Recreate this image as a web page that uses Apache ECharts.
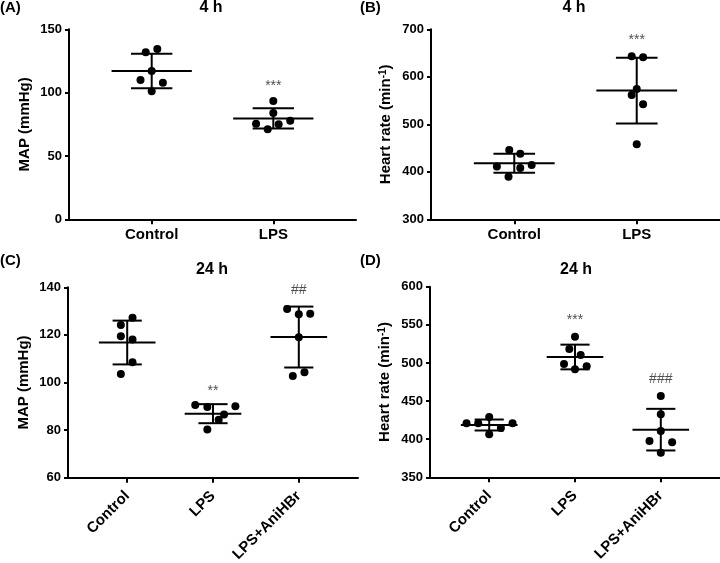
<!DOCTYPE html>
<html>
<head>
<meta charset="utf-8">
<script src="https://cdn.jsdelivr.net/npm/echarts@6/dist/echarts.min.js"></script>
<style>
html,body{margin:0;padding:0;background:#fff;}
#chart{width:720px;height:563px;}
</style>
</head>
<body>
<div id="chart"></div>
<script>
// ---------- data ----------
const catsTop = ['Control', 'LPS'];
const catsBottom = ['Control', 'LPS', 'LPS+AniHBr'];

// Panel A: MAP at 4 h (mmHg)
const mapA = [[131.8, 134.5, 117.1, 110.0, 107.9, 101.1], [93.4, 83.9, 75.5, 75.0, 77.9, 71.1]];
const jitA = [[-0.049, 0.046, 0, -0.092, 0.092, 0], [0, 0, -0.142, 0.044, 0.139, -0.046]];
const meanA = [117.1, 79.6];
const sdA = [13.6, 8.0];
const sigA = ['', '***'];
const sigYA = [107.4, 105.5];

// Panel B: heart rate at 4 h (min-1)
const hrB = [[446.0, 438.2, 410.9, 408.1, 414.4, 389.8], [643.2, 641.1, 574.4, 561.8, 542.1, 457.9]];
const jitB = [[-0.041, 0.049, -0.142, 0.049, 0.142, -0.047], [-0.041, 0.052, 0, -0.041, 0.052, 0]];
const meanB = [417.9, 570.9];
const sdB = [20.0, 69.2];
const sigB = ['', '***'];
const sigYB = [682.5, 677.5];

// Panel C: MAP at 24 h (mmHg)
const mapC = [[124.2, 127.2, 119.4, 118.1, 108.5, 103.6], [90.5, 89.7, 90.0, 86.6, 84.4, 80.3], [130.9, 128.7, 128.9, 119.0, 102.7, 104.3]];
const jitC = [[-0.074, 0.062, -0.074, 0.062, 0.062, -0.074], [-0.207, -0.066, 0.261, 0.129, 0.066, -0.066], [-0.136, 0, 0.133, 0, -0.07, 0.066]];
const meanC = [116.8, 86.9, 119.1];
const sdC = [9.2, 4.0, 12.8];
const sigC = ['', '**', '##'];
const sigYC = [0, 96.5, 138.9];

// Panel D: heart rate at 24 h (min-1)
const hrD = [[420.8, 420.8, 429.1, 414.7, 420.8, 406.4], [534.4, 518.3, 510.4, 498.6, 495.5, 491.6], [456.6, 432.6, 410.8, 397.6, 395.9, 382.3]];
const jitD = [[-0.264, -0.128, 0, 0.136, 0.272, 0], [0, -0.066, 0.066, -0.128, 0.136, 0], [0, 0, 0, -0.132, 0.132, 0]];
const meanD = [418.6, 507.8, 412.5];
const sdD = [7.2, 16.2, 27.3];
const sigD = ['', '***', '###'];
const sigYD = [0, 556.0, 478.5];

// ---------- chart ----------
const FONT = "'Liberation Sans', Arial, Helvetica, sans-serif";

function pts(vals, jit) {
  const out = [];
  vals.forEach((g, i) => g.forEach((v, j) => out.push([i + 1 + jit[i][j], v])));
  return out;
}
function bars(mean, sd) {
  return mean.map((m, i) => [i + 1, m, sd[i]]);
}
function sigs(labels, ys) {
  const out = [];
  labels.forEach((s, i) => { if (s) out.push({ name: s, value: [i + 1, ys[i]] }); });
  return out;
}

const grids = [
  { left: 69, top: 29.3, width: 287, height: 190 },
  { left: 431, top: 29.3, width: 289, height: 190 },
  { left: 68, top: 287.3, width: 290, height: 190.4 },
  { left: 430, top: 286.7, width: 290, height: 190.6 }
];

function xAxis(gi, cats, min, max, rotate) {
  const ticks = cats.map((c, i) => i + 1);
  return {
    gridIndex: gi, type: 'value', min: min, max: max,
    axisLine: { show: true, onZero: false, lineStyle: { color: '#000', width: 2 } },
    axisTick: { show: true, customValues: ticks, length: 5, lineStyle: { color: '#000', width: 2 } },
    axisLabel: {
      customValues: ticks, formatter: v => cats[Math.round(v) - 1] || '',
      color: '#000', fontWeight: 'bold', fontSize: 15, fontFamily: FONT,
      margin: rotate ? 16 : 8, rotate: rotate || 0
    },
    splitLine: { show: false }
  };
}
function yAxis(gi, min, max, interval, name) {
  return {
    gridIndex: gi, type: 'value', min: min, max: max, interval: interval,
    name: name, nameLocation: 'middle', nameGap: 37,
    nameTextStyle: { color: '#000', fontWeight: 'bold', fontSize: 15, fontFamily: FONT,
      rich: { sup: { fontSize: 10, fontWeight: 'bold', color: '#000', fontFamily: FONT, verticalAlign: 'top', padding: [0, 0, 6, 0] } } },
    axisLine: { show: true, onZero: false, lineStyle: { color: '#000', width: 2 } },
    axisTick: { show: true, length: 4, lineStyle: { color: '#000', width: 2 } },
    axisLabel: { color: '#000', fontWeight: 'bold', fontSize: 13, fontFamily: FONT, margin: 7 },
    splitLine: { show: false }
  };
}

function errSeries(gi, data) {
  return {
    type: 'custom', xAxisIndex: gi, yAxisIndex: gi, data: data, z: 3, silent: true,
    renderItem: function (params, api) {
      const x = api.value(0), m = api.value(1), s = api.value(2);
      const ls = { stroke: '#000', lineWidth: 2 };
      const a = api.coord([x - 0.33, m]), b = api.coord([x + 0.33, m]);
      const hi1 = api.coord([x - 0.17, m + s]), hi2 = api.coord([x + 0.17, m + s]);
      const lo1 = api.coord([x - 0.17, m - s]), lo2 = api.coord([x + 0.17, m - s]);
      const vt = api.coord([x, m + s]), vb = api.coord([x, m - s]);
      return {
        type: 'group', children: [
          { type: 'line', shape: { x1: a[0], y1: a[1], x2: b[0], y2: b[1] }, style: ls },
          { type: 'line', shape: { x1: hi1[0], y1: hi1[1], x2: hi2[0], y2: hi2[1] }, style: ls },
          { type: 'line', shape: { x1: lo1[0], y1: lo1[1], x2: lo2[0], y2: lo2[1] }, style: ls },
          { type: 'line', shape: { x1: vt[0], y1: vt[1], x2: vb[0], y2: vb[1] }, style: ls }
        ]
      };
    }
  };
}
function ptSeries(gi, data) {
  return { type: 'scatter', xAxisIndex: gi, yAxisIndex: gi, data: data, symbolSize: 8,
    itemStyle: { color: '#000', opacity: 1 }, z: 2, silent: true };
}
function sigSeries(gi, data) {
  return { type: 'scatter', xAxisIndex: gi, yAxisIndex: gi, data: data, symbolSize: 0, silent: true,
    label: { show: true, position: 'inside', formatter: '{b}', color: '#222', fontSize: 14, fontFamily: FONT } , z: 4};
}

function txt(x, y, s, size) {
  return { type: 'text', x: x, y: y, style: { text: s, fill: '#000', font: 'bold ' + size + 'px ' + FONT, align: 'center', verticalAlign: 'middle' } };
}
function lbl(x, y, s) {
  return { type: 'text', x: x, y: y, style: { text: s, fill: '#000', font: 'bold 15px ' + FONT, align: 'left', verticalAlign: 'middle' } };
}

const chart = echarts.init(document.getElementById('chart'), null, { renderer: 'canvas' });
chart.setOption({
  animation: false,
  backgroundColor: '#fff',
  grid: grids.map(g => Object.assign({ containLabel: false, outerBoundsMode: 'none' }, g)),
  xAxis: [
    xAxis(0, catsTop, 0.32, 2.68, 0),
    xAxis(1, catsTop, 0.32, 2.68, 0),
    xAxis(2, catsBottom, 0.31, 3.69, 45),
    xAxis(3, catsBottom, 0.31, 3.69, 45)
  ],
  yAxis: [
    yAxis(0, 0, 150, 50, 'MAP (mmHg)'),
    yAxis(1, 300, 700, 100, 'Heart rate (min{sup|-1})'),
    yAxis(2, 60, 140, 20, 'MAP (mmHg)'),
    yAxis(3, 350, 600, 50, 'Heart rate (min{sup|-1})')
  ],
  series: [
    ptSeries(0, pts(mapA, jitA)), errSeries(0, bars(meanA, sdA)), sigSeries(0, sigs(sigA, sigYA)),
    ptSeries(1, pts(hrB, jitB)), errSeries(1, bars(meanB, sdB)), sigSeries(1, sigs(sigB, sigYB)),
    ptSeries(2, pts(mapC, jitC)), errSeries(2, bars(meanC, sdC)), sigSeries(2, sigs(sigC, sigYC)),
    ptSeries(3, pts(hrD, jitD)), errSeries(3, bars(meanD, sdD)), sigSeries(3, sigs(sigD, sigYD))
  ],
  graphic: [
    lbl(0, 8, '(A)'), lbl(360, 8, '(B)'), lbl(0, 261, '(C)'), lbl(360, 261, '(D)'),
    txt(211, 8, '4 h', 16), txt(574, 8, '4 h', 16),
    txt(212, 270, '24 h', 16), txt(576, 270, '24 h', 16)
  ]
});
</script>
</body>
</html>
